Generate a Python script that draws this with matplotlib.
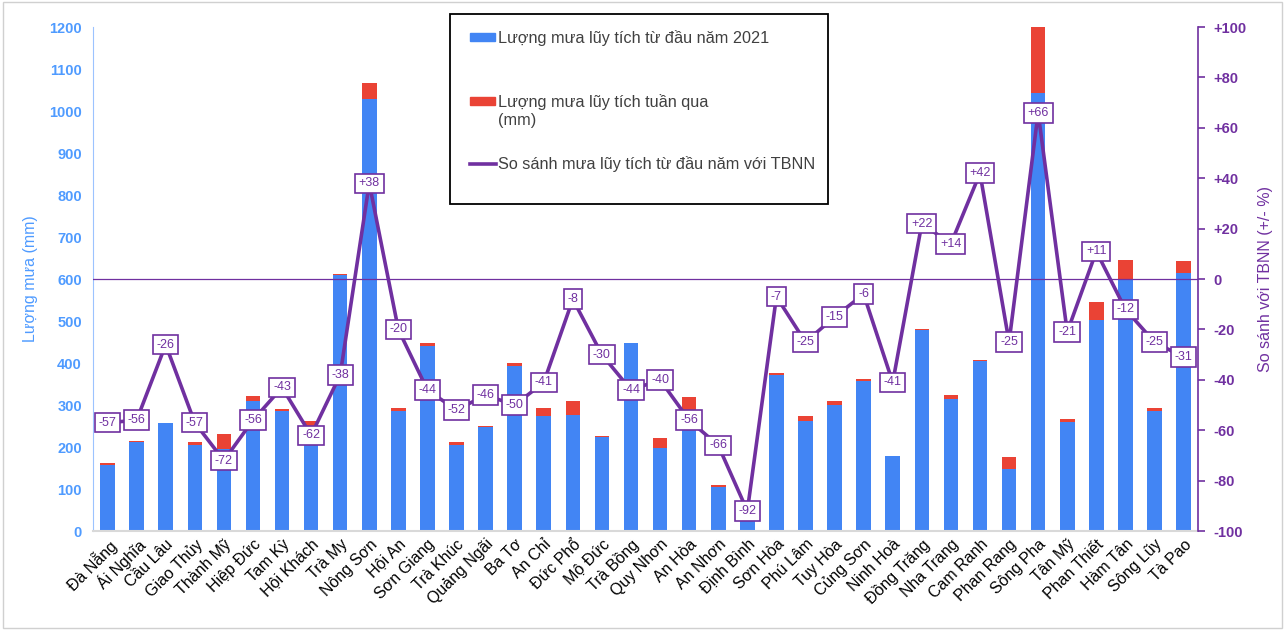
import matplotlib
matplotlib.use("Agg")
import matplotlib.pyplot as plt
from matplotlib.patches import Rectangle
from matplotlib.lines import Line2D

plt.rcParams['font.family'] = ['Liberation Sans', 'DejaVu Sans']

stations = ["Đà Nẵng", "Ái Nghĩa", "Cầu Lâu", "Giao Thủy", "Thành Mỹ", "Hiệp Đức",
            "Tam Kỳ", "Hội Khách", "Trà My", "Nông Sơn", "Hội An", "Sơn Giang",
            "Trà Khúc", "Quảng Ngãi", "Ba Tơ", "An Chỉ", "Đức Phổ", "Mộ Đức",
            "Trà Bồng", "Quy Nhơn", "An Hòa", "An Nhơn", "Định Bình", "Sơn Hòa",
            "Phú Lâm", "Tuy Hòa", "Củng Sơn", "Ninh Hoà", "Đồng Trăng", "Nha Trang",
            "Cam Ranh", "Phan Rang", "Sông Pha", "Tân Mỹ", "Phan Thiết", "Hàm Tân",
            "Sông Lũy", "Tà Pao"]
# rain since start of 2021 (mm)
rain_year = [158, 213, 258, 206, 195, 310, 287, 250, 609, 1029, 286, 441,
             205, 248, 393, 275, 276, 224, 447, 198, 280, 104, 30, 371,
             263, 300, 358, 179, 479, 314, 404, 148, 1044, 259, 503, 599,
             286, 614]
# rain of last week (mm)
rain_week = [3, 2, 0, 5, 36, 12, 3, 12, 4, 38, 8, 7,
             6, 3, 7, 19, 34, 2, 0, 23, 39, 6, 0, 5,
             12, 10, 5, 0, 3, 11, 4, 29, 156, 7, 42, 46,
             8, 30]
# comparison with long-term average (%)
compare = [-57, -56, -26, -57, -72, -56, -43, -62, -38, 38, -20, -44,
           -52, -46, -50, -41, -8, -30, -44, -40, -56, -66, -92, -7,
           -25, -15, -6, -41, 22, 14, 42, -25, 66, -21, 11, -12,
           -25, -31]

legend_labels = ["Lượng mưa lũy tích từ đầu năm 2021",
                 "Lượng mưa lũy tích tuần qua\n(mm)",
                 "So sánh mưa lũy tích từ đầu năm với TBNN"]

BLUE = "#4285F4"
RED = "#EA4335"
PURPLE = "#7030A0"
LBLUE = "#4F9BFF"
W, H = 1288, 630

fig = plt.figure(figsize=(12.88, 6.3), dpi=100)
ax = fig.add_axes([0.0722, 0.157, 0.858, 0.8])
x = list(range(len(stations)))
ax.bar(x, rain_year, width=0.5, color=BLUE, zorder=2)
ax.bar(x, rain_week, width=0.5, bottom=rain_year, color=RED, zorder=2)
ax.set_xlim(-0.5, len(stations) - 0.5)
ax.set_ylim(0, 1200)
ax.set_yticks(range(0, 1201, 100))
ax.tick_params(axis='y', colors=LBLUE, labelsize=10.5, length=0, pad=8)
for t in ax.get_yticklabels():
    t.set_fontweight('bold')
ax.set_xticks(x)
ax.set_xticklabels(stations, rotation=45, ha='right', rotation_mode='anchor', fontsize=11.5)
ax.tick_params(axis='x', length=0, pad=4)
ax.set_ylabel("Lượng mưa (mm)", color=LBLUE, fontsize=11.5, labelpad=8)
for s in ['top', 'right']:
    ax.spines[s].set_visible(False)
ax.spines['left'].set_color("#9CC3FF")
ax.spines['bottom'].set_color("#D9D9D9")
ax.spines['bottom'].set_linewidth(1.5)

ax2 = ax.twinx()
ax2.set_ylim(-100, 100)
ax2.set_yticks(range(-100, 101, 20))
ax2.set_yticklabels(["-100", "-80", "-60", "-40", "-20", "0",
                     "+20", "+40", "+60", "+80", "+100"])
ax2.tick_params(axis='y', colors=PURPLE, labelsize=10.5, length=5, width=1.2, pad=6)
for t in ax2.get_yticklabels():
    t.set_fontweight('bold')
for s in ['top', 'left', 'bottom']:
    ax2.spines[s].set_visible(False)
ax2.spines['right'].set_color(PURPLE)
ax2.spines['right'].set_linewidth(1.2)
ax2.set_ylabel("So sánh với TBNN (+/- %)", color=PURPLE, fontsize=11.5, labelpad=8)
ax2.axhline(0, color=PURPLE, lw=0.9, zorder=1)
ax2.plot(x, compare, color=PURPLE, lw=2.6, zorder=3)
for xi, v in zip(x, compare):
    lab = f"+{v}" if v > 0 else str(v)
    ax2.text(xi, v, lab, ha='center', va='center', fontsize=9, color=PURPLE, zorder=4,
             bbox=dict(boxstyle='square,pad=0.3', fc='white', ec=PURPLE, lw=1.2))

# legend box drawn by hand so the uneven row spacing matches
def fx(px):
    return px / W

def fy(py):
    return 1 - py / H

fig.patches.append(Rectangle((fx(450), fy(204)), fx(828) - fx(450), fy(14) - fy(204),
                             transform=fig.transFigure, fill=False, ec='black', lw=1.3, zorder=5))
fig.patches.append(Rectangle((fx(470), fy(41)), fx(25), 8 / H, transform=fig.transFigure,
                             color=BLUE, zorder=5))
fig.patches.append(Rectangle((fx(470), fy(105)), fx(25), 8 / H, transform=fig.transFigure,
                             color=RED, zorder=5))
fig.lines.append(Line2D([fx(470), fx(496)], [fy(164), fy(164)], transform=fig.transFigure,
                        color=PURPLE, lw=2.6, zorder=5))
fig.text(fx(498), fy(38), legend_labels[0], fontsize=11.7, color='#404040', va='center')
fig.text(fx(498), fy(111), legend_labels[1], fontsize=11.7, color='#404040', va='center',
         linespacing=1.2)
fig.text(fx(498), fy(164), legend_labels[2], fontsize=11.7, color='#404040', va='center')

fig.patches.append(Rectangle((0.002, 0.003), 0.993, 0.994, transform=fig.transFigure,
                             fill=False, ec="#D0D0D0", lw=1))

fig.savefig("out.png", dpi=100)
